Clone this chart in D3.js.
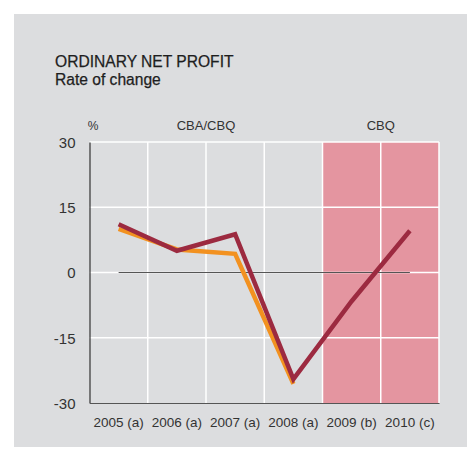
<!DOCTYPE html>
<html>
<head>
<meta charset="utf-8">
<script src="https://cdn.jsdelivr.net/npm/d3@7"></script>
<style>
  html, body { margin: 0; padding: 0; background: #ffffff; }
  svg { display: block; }
  text { font-family: "Liberation Sans", Arial, Helvetica, sans-serif; fill: #333; }
</style>
</head>
<body>
<svg id="chart" width="467" height="457"></svg>
<script>
// Years on the horizontal axis
const categories = ["2005 (a)", "2006 (a)", "2007 (a)", "2008 (a)", "2009 (b)", "2010 (c)"];
// Ordinary net profit, rate of change (%)
const seriesCBA = [10.0, 5.3, 4.3, -25.6];            // CBA/CBQ sample (orange)
const seriesCBQ = [11.1, 5.0, 8.8, -24.5, -6.6, 9.6];  // CBQ sample (dark red)
const yTicks = [30, 15, 0, -15, -30];
const shadedCategories = ["2009 (b)", "2010 (c)"];

const svg = d3.select("#chart");

// Background panel
svg.append("rect")
  .attr("x", 14).attr("y", 14)
  .attr("width", 453).attr("height", 433)
  .attr("fill", "#dcdddf");

// Titles
svg.append("text").attr("x", 55).attr("y", 66.5)
  .attr("font-size", 15.6).style("fill", "#1e1e1e").style("stroke", "#1e1e1e").style("stroke-width", 0.25)
  .text("ORDINARY NET PROFIT");
svg.append("text").attr("x", 55).attr("y", 84.5)
  .attr("font-size", 15.6).style("fill", "#1e1e1e").style("stroke", "#1e1e1e").style("stroke-width", 0.25)
  .text("Rate of change");

const plotLeft = 89.5, plotRight = 439, plotTop = 142, plotBottom = 403;

const x = d3.scaleBand().domain(categories).range([plotLeft, plotRight]).padding(0);
const y = d3.scaleLinear().domain([-30, 30]).range([plotBottom, plotTop]);
const cx = c => x(c) + x.bandwidth() / 2;

// Shaded forecast columns
svg.append("rect")
  .attr("x", x(shadedCategories[0]))
  .attr("y", plotTop)
  .attr("width", x(shadedCategories[shadedCategories.length - 1]) + x.bandwidth() - x(shadedCategories[0]))
  .attr("height", plotBottom - plotTop)
  .attr("fill", "#e495a0");

// White grid: horizontal lines at ticks, vertical at column boundaries
const grid = svg.append("g").attr("stroke", "#ffffff").attr("stroke-width", 1.5);
grid.selectAll("line.h").data(yTicks.filter(t => t !== -30)).join("line")
  .attr("x1", plotLeft).attr("x2", plotRight)
  .attr("y1", d => y(d)).attr("y2", d => y(d));
grid.selectAll("line.v").data(categories).join("line")
  .attr("x1", d => x(d) + x.bandwidth()).attr("x2", d => x(d) + x.bandwidth())
  .attr("y1", plotTop).attr("y2", plotBottom);

// Zero reference line between the first and last column centres
svg.append("line")
  .attr("x1", cx(categories[0])).attr("x2", cx(categories[categories.length - 1]))
  .attr("y1", y(0)).attr("y2", y(0))
  .attr("stroke", "#555").attr("stroke-width", 1.2);

// Left axis with tick labels (plain hyphen for negatives)
const yAxis = d3.axisLeft(y).tickValues(yTicks).tickFormat(d => String(d)).tickSize(0).tickPadding(14);
const yg = svg.append("g").attr("transform", `translate(${plotLeft},0)`).call(yAxis);
yg.select(".domain").attr("stroke", "#333").attr("stroke-width", 1.2);
yg.selectAll("text").attr("font-size", 15).attr("font-family", null)
  .style("fill", "#333").attr("dy", "0.36em");

// Bottom axis with category labels
const xAxis = d3.axisBottom(x).tickSize(0).tickPadding(14);
const xg = svg.append("g").attr("transform", `translate(0,${plotBottom})`).call(xAxis);
xg.select(".domain").attr("stroke", "#555").attr("stroke-width", 1.2);
xg.selectAll("text").attr("font-size", 13.5).attr("font-family", null).style("fill", "#333");

// Header labels
svg.append("text").attr("x", 93).attr("y", 130).attr("text-anchor", "middle")
  .attr("font-size", 12).text("%");
svg.append("text").attr("x", (x(categories[1]) + x(categories[2]) + x.bandwidth()) / 2).attr("y", 130)
  .attr("text-anchor", "middle").attr("font-size", 13).text("CBA/CBQ");
svg.append("text").attr("x", x(shadedCategories[1])).attr("y", 130)
  .attr("text-anchor", "middle").attr("font-size", 13).text("CBQ");

// Series lines
const line = d3.line()
  .x((d, i) => cx(categories[i]))
  .y(d => y(d));

svg.append("path").datum(seriesCBA)
  .attr("d", line).attr("fill", "none")
  .attr("stroke", "#f29120").attr("stroke-width", 4.5)
  .attr("stroke-linejoin", "miter");

svg.append("path").datum(seriesCBQ)
  .attr("d", line).attr("fill", "none")
  .attr("stroke", "#9c2a40").attr("stroke-width", 4.5)
  .attr("stroke-linejoin", "miter");
</script>
</body>
</html>
